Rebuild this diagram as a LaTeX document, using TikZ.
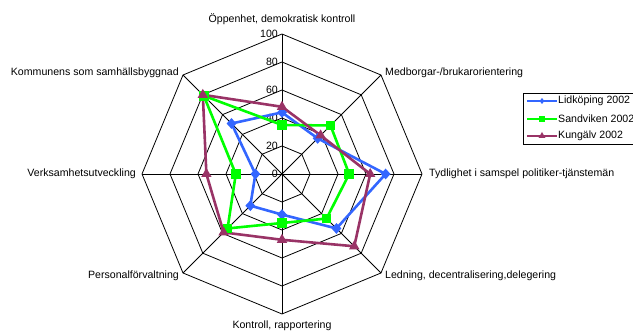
\documentclass[tikz,border=0pt]{standalone}
\usepackage{fontspec}
\setmainfont{Liberation Sans}
\usetikzlibrary{calc,shapes.geometric}
\definecolor{lidblue}{RGB}{51,102,255}
\definecolor{sandgreen}{RGB}{0,255,0}
\definecolor{kungpurple}{RGB}{153,51,102}
\tikzset{
  gridline/.style={black,line width=0.8pt},
  lbl/.style={font=\fontsize{10.6}{12}\selectfont,inner sep=0pt},
  serA/.style={lidblue,line width=2.6pt,line join=round},
  serB/.style={sandgreen,line width=2.6pt,line join=round},
  serC/.style={kungpurple,line width=2.6pt,line join=round},
  mkA/.style={diamond,fill=lidblue,draw=none,minimum width=10pt,minimum height=11pt,inner sep=0pt},
  mkB/.style={rectangle,fill=sandgreen,draw=none,minimum size=9.5pt,inner sep=0pt},
  mkC/.style={regular polygon,regular polygon sides=3,fill=kungpurple,draw=none,minimum size=12pt,inner sep=0pt},
  mkAs/.style={diamond,fill=lidblue,draw=none,minimum width=5pt,minimum height=6pt,inner sep=0pt},
  mkBs/.style={rectangle,fill=sandgreen,draw=none,minimum size=6pt,inner sep=0pt},
  mkCs/.style={regular polygon,regular polygon sides=3,fill=kungpurple,draw=none,minimum size=8pt,inner sep=0pt},
}
\begin{document}
\begin{tikzpicture}[x=1pt,y=1pt]
\useasboundingbox (0,0) rectangle (633,334);
\clip (0,0) rectangle (633,334);
\fill[white] (0,0) rectangle (633,334);
\coordinate (C) at (282,160);
% grid rings
\foreach \r in {20,40,60,80,100}{
  \foreach \k in {0,...,7}{
    \coordinate (g\r-\k) at ($(C)+({90-45*\k}:{1.4*\r})$);
  }
  \draw[gridline] (g\r-0) -- (g\r-1) -- (g\r-2) -- (g\r-3) -- (g\r-4) -- (g\r-5) -- (g\r-6) -- (g\r-7) -- cycle;
}
\foreach \k in {0,...,7}{ \draw[gridline] (C) -- (g100-\k); }
% tick labels
\node[lbl,anchor=east] (t0) at ($(C)+(-4,0)$) {0};
\foreach \r in {20,40,60,80,100}{
  \node[lbl,anchor=east] (t\r) at ($(g\r-0)+(-4,0)$) {\r};
}
% axis labels
\node[lbl] (a0) at ($(g100-0)+(0,15)$) {Öppenhet, demokratisk kontroll};
\node[lbl,anchor=west] (a1) at ($(g100-1)+(4,2)$) {Medborgar-/brukarorientering};
\node[lbl,anchor=west] (a2) at ($(g100-2)+(7,0)$) {Tydlighet i samspel politiker-tjänstemän};
\node[lbl,anchor=west] (a3) at ($(g100-3)+(4,-3)$) {Ledning, decentralisering,delegering};
\node[lbl] (a4) at ($(g100-4)+(0,-12)$) {Kontroll, rapportering};
\node[lbl,anchor=east] (a5) at ($(g100-5)+(-4,-3)$) {Personalförvaltning};
\node[lbl,anchor=east] (a6) at ($(g100-6)+(-6,0)$) {Verksamhetsutveckling};
\node[lbl,anchor=east] (a7) at ($(g100-7)+(-4,2)$) {Kommunens som samhällsbyggnad};
% data
\foreach \v [count=\i from 0] in {44,36,74,55,29,32,19,51}{
  \coordinate (A\i) at ($(C)+({90-45*\i}:{1.4*\v})$);
}
\foreach \v [count=\i from 0] in {35,49,48,45,35,55,33,79}{
  \coordinate (B\i) at ($(C)+({90-45*\i}:{1.4*\v})$);
}
\foreach \v [count=\i from 0] in {48,39,63,73,47,59,54,80}{
  \coordinate (K\i) at ($(C)+({90-45*\i}:{1.4*\v})$);
}
\draw[serA] (A0) -- (A1) -- (A2) -- (A3) -- (A4) -- (A5) -- (A6) -- (A7) -- cycle;
\draw[serB] (B0) -- (B1) -- (B2) -- (B3) -- (B4) -- (B5) -- (B6) -- (B7) -- cycle;
\draw[serC] (K0) -- (K1) -- (K2) -- (K3) -- (K4) -- (K5) -- (K6) -- (K7) -- cycle;
\foreach \i in {0,...,7}{
  \node[mkA] (mA\i) at (A\i) {};
  \node[mkB] (mB\i) at (B\i) {};
  \node[mkC] (mK\i) at (K\i) {};
}
% legend
\node[draw=black,line width=0.8pt,anchor=north west,minimum width=130pt,minimum height=51pt,inner sep=0pt] (leg) at (523,241) {};
\coordinate (l1a) at (527,233); \coordinate (l1b) at (557,233);
\coordinate (l2a) at (527,215); \coordinate (l2b) at (557,215);
\coordinate (l3a) at (527,198); \coordinate (l3b) at (557,198);
\draw[serA] (l1a) -- (l1b); \node[mkAs] (lm1) at ($(l1a)!0.5!(l1b)$) {};
\draw[serB] (l2a) -- (l2b); \node[mkBs] (lm2) at ($(l2a)!0.5!(l2b)$) {};
\draw[serC] (l3a) -- (l3b); \node[mkCs] (lm3) at ($(l3a)!0.5!(l3b)$) {};
\node[lbl,anchor=west] (lt1) at ($(l1b)+(1,0)$) {Lidköping 2002};
\node[lbl,anchor=west] (lt2) at ($(l2b)+(1,0)$) {Sandviken 2002};
\node[lbl,anchor=west] (lt3) at ($(l3b)+(1,0)$) {Kungälv 2002};
\end{tikzpicture}
\end{document}
